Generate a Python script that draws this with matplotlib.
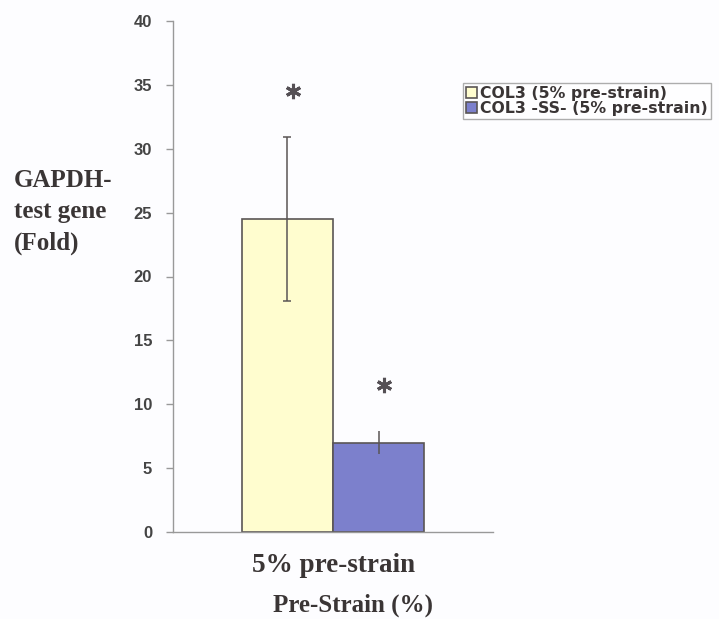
import matplotlib
matplotlib.use("Agg")
import matplotlib.pyplot as plt
import numpy as np

# Data
group_label = ["5% pre-strain"]
series_names = ["COL3 (5% pre-strain)", "COL3 -SS- (5% pre-strain)"]
fold_means = [24.5, 7.0]
fold_errors = [6.4, 0.9]
series_colors = ["#FFFDCF", "#7C80CC"]
cap_sizes = [3.0, 0.0]

fig = plt.figure(figsize=(7.19, 6.19), dpi=100, facecolor="#FDFDFF")
ax = fig.add_axes([173 / 719, 1 - 532 / 619, 320 / 719, (532 - 21) / 619])
ax.set_facecolor("#FDFDFF")

bar_w = 1.0
offsets = [-0.5, 0.5]
edge = "#5A5555"
for i in range(len(series_names)):
    x = offsets[i]
    ax.bar(x, fold_means[i], width=bar_w, color=series_colors[i], edgecolor=edge,
           linewidth=1.2, label=series_names[i], zorder=2)
    ax.errorbar(x, fold_means[i], yerr=fold_errors[i], fmt="none", ecolor=edge,
                elinewidth=1.1, capsize=cap_sizes[i], capthick=1.1, zorder=3)
    # significance asterisk above the error bar
    ax.plot(x + 0.06, fold_means[i] + fold_errors[i] + 3.6, linestyle="none",
            marker=(6, 2, 0), markersize=11, markeredgewidth=2.2,
            markeredgecolor="#555055", zorder=4)

ax.set_xlim(-1.758, 1.758)
ax.set_ylim(0, 40)
ax.set_yticks(np.arange(0, 41, 5))
ax.set_xticks([0])
ax.set_xticklabels(group_label, family="Liberation Serif", fontweight="bold",
                   fontsize=19.5, color="#3A3535")
ax.tick_params(axis="x", length=0, pad=15)
ax.tick_params(axis="y", length=5, width=1, color="#999999", pad=10,
               labelsize=12, labelcolor="#444444")
for lab in ax.get_yticklabels():
    lab.set_fontweight("bold")
    lab.set_family("Liberation Sans")

for s in ["top", "right"]:
    ax.spines[s].set_visible(False)
for s in ["left", "bottom"]:
    ax.spines[s].set_color("#999999")
    ax.spines[s].set_linewidth(1.0)

fig.text(14 / 719, 1 - 212 / 619, "GAPDH-\ntest gene\n(Fold)", ha="left", va="center",
         family="Liberation Serif", fontweight="bold", fontsize=18, color="#3A3535",
         linespacing=1.45)
fig.text(353 / 719, 1 - 605 / 619, "Pre-Strain (%)", ha="center", va="center",
         family="Liberation Serif", fontweight="bold", fontsize=18, color="#3A3535")

leg = fig.legend(loc="upper left", bbox_to_anchor=(463 / 719, 1 - 83 / 619),
                 prop={"family": "DejaVu Sans", "weight": "bold", "size": 11.3},
                 handlelength=0.7, handleheight=0.7, handletextpad=0.2,
                 labelspacing=0.0, borderpad=0.2, borderaxespad=0,
                 frameon=True, fancybox=False, edgecolor="#999999")
leg.get_frame().set_linewidth(1.0)
for t in leg.get_texts():
    t.set_color("#3A3535")

fig.savefig("out.png", dpi=100, facecolor=fig.get_facecolor())
